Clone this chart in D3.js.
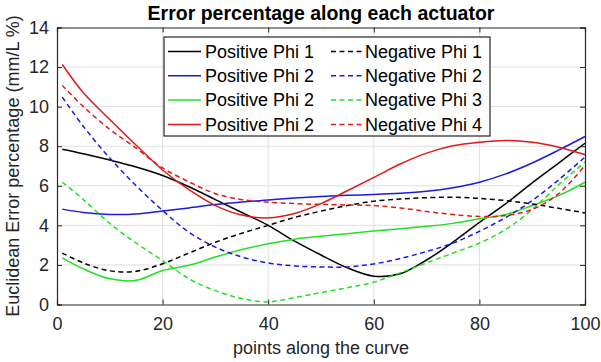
<!DOCTYPE html>
<html>
<head>
<meta charset="utf-8">
<script src="https://cdn.jsdelivr.net/npm/d3@7"></script>
<style>
  body { margin: 0; background: #fff; }
  svg text { font-family: "Liberation Sans", Arial, sans-serif; }
</style>
</head>
<body>
<div id="chart"></div>
<script>
// points along the curve (x samples)
const xPoints = [1, 5, 10, 15, 20, 25, 30, 35, 40, 45, 50, 55, 60, 65, 70, 75, 80, 85, 90, 95, 100];

// error percentages
const posPhi1 = [7.85, 7.62, 7.3, 6.95, 6.52, 5.95, 5.3, 4.65, 4.0, 3.2, 2.5, 1.85, 1.43, 1.55, 2.25, 3.15, 4.15, 5.1, 6.15, 7.15, 8.15];
const negPhi1 = [2.6, 2.1, 1.7, 1.68, 2.06, 2.6, 3.15, 3.6, 4.0, 4.4, 4.72, 5.0, 5.22, 5.33, 5.4, 5.42, 5.36, 5.25, 5.08, 4.86, 4.63];
const posPhi2 = [4.82, 4.65, 4.55, 4.57, 4.72, 4.88, 5.05, 5.18, 5.28, 5.38, 5.46, 5.52, 5.56, 5.62, 5.72, 5.9, 6.18, 6.6, 7.15, 7.8, 8.49];
const negPhi2 = [10.48, 9.0, 7.4, 6.0, 4.75, 3.65, 2.9, 2.4, 2.1, 1.95, 1.9, 1.9, 2.05, 2.32, 2.68, 3.1, 3.7, 4.4, 5.25, 6.3, 7.45];
const posPhi3 = [2.36, 1.8, 1.3, 1.22, 1.72, 1.98, 2.4, 2.78, 3.07, 3.3, 3.45, 3.58, 3.71, 3.83, 3.95, 4.1, 4.33, 4.55, 5.0, 5.5, 6.18];
const negPhi3 = [6.18, 5.3, 4.1, 3.1, 2.22, 1.3, 0.7, 0.3, 0.13, 0.35, 0.6, 0.85, 1.13, 1.6, 2.1, 2.6, 3.1, 3.8, 4.8, 6.05, 7.2];
const posPhi4 = [12.13, 10.7, 9.35, 8.05, 6.8, 5.8, 5.0, 4.52, 4.38, 4.6, 5.1, 5.75, 6.42, 7.1, 7.65, 8.02, 8.2, 8.29, 8.2, 7.95, 7.57];
const negPhi4 = [11.07, 10.0, 8.85, 7.9, 6.9, 6.2, 5.6, 5.3, 5.17, 5.1, 5.06, 5.03, 5.0, 4.88, 4.7, 4.55, 4.45, 4.5, 4.8, 5.6, 7.03];

const xTicks = [0, 20, 40, 60, 80, 100];
const yTicks = [0, 2, 4, 6, 8, 10, 12, 14];

const posLabels = ["Positive Phi 1", "Positive Phi 2", "Positive Phi 2", "Positive Phi 2"];
const negLabels = ["Negative Phi 1", "Negative Phi 2", "Negative Phi 3", "Negative Phi 4"];
const colors = ["#000000", "#1a1ae0", "#22e022", "#e01a1a"];

const series = [
  { values: posPhi1, color: colors[0], dash: null },
  { values: posPhi2, color: colors[1], dash: null },
  { values: posPhi3, color: colors[2], dash: null },
  { values: posPhi4, color: colors[3], dash: null },
  { values: negPhi1, color: colors[0], dash: "5,3.5" },
  { values: negPhi2, color: colors[1], dash: "5,3.5" },
  { values: negPhi3, color: colors[2], dash: "5,3.5" },
  { values: negPhi4, color: colors[3], dash: "5,3.5" }
];

const W = 601, H = 362;
const margin = { top: 27.5, right: 16, bottom: 57.5, left: 57 };
const width = W - margin.left - margin.right;
const height = H - margin.top - margin.bottom;
const axisColor = "#262626";
const fs = 18;

const svg = d3.select("#chart").append("svg")
  .attr("width", W).attr("height", H);

const g = svg.append("g")
  .attr("transform", `translate(${margin.left},${margin.top})`);

const x = d3.scaleLinear().domain([0, 100]).range([0, width]);
const y = d3.scaleLinear().domain([0, 14]).range([height, 0]);

// grid
g.append("g").selectAll("line").data(xTicks.slice(1, -1)).enter().append("line")
  .attr("x1", d => x(d)).attr("x2", d => x(d))
  .attr("y1", 0).attr("y2", height)
  .attr("stroke", "#dfdfdf").attr("stroke-width", 1);
g.append("g").selectAll("line").data(yTicks.slice(1, -1)).enter().append("line")
  .attr("y1", d => y(d)).attr("y2", d => y(d))
  .attr("x1", 0).attr("x2", width)
  .attr("stroke", "#dfdfdf").attr("stroke-width", 1);

// curves
const line = d3.line()
  .x((d, i) => x(xPoints[i]))
  .y(d => y(d))
  .curve(d3.curveCatmullRom.alpha(0.5));

g.append("g").selectAll("path").data(series).enter().append("path")
  .attr("d", d => line(d.values))
  .attr("fill", "none")
  .attr("stroke", d => d.color)
  .attr("stroke-width", 1.5)
  .attr("stroke-dasharray", d => d.dash);

// axes, MATLAB style: ticks inward on all four sides
g.append("g").attr("transform", `translate(0,${height})`)
  .call(d3.axisBottom(x).tickValues(xTicks).tickSize(-5).tickPadding(13));
g.append("g")
  .call(d3.axisLeft(y).tickValues(yTicks).tickSize(-5).tickPadding(8));
g.append("g").call(d3.axisTop(x).tickValues(xTicks).tickSize(-5).tickFormat(""));
g.append("g").attr("transform", `translate(${width},0)`)
  .call(d3.axisRight(y).tickValues(yTicks).tickSize(-5).tickFormat(""));

g.selectAll(".domain").attr("stroke", axisColor).attr("stroke-width", 1.2);
g.selectAll(".tick line").attr("stroke", axisColor);
g.selectAll(".tick text").attr("fill", axisColor).attr("font-size", fs);

// legend
const lg = g.append("g").attr("transform", `translate(${164 - margin.left},${37 - margin.top})`);
lg.append("rect")
  .attr("width", 326).attr("height", 99)
  .attr("fill", "#fff").attr("stroke", axisColor).attr("stroke-width", 1.2);

const rowY = i => 14.5 + i * 24.3;
posLabels.forEach((label, i) => {
  lg.append("line")
    .attr("x1", 4).attr("x2", 37).attr("y1", rowY(i)).attr("y2", rowY(i))
    .attr("stroke", colors[i]).attr("stroke-width", 1.5);
  lg.append("text").attr("x", 41).attr("y", rowY(i)).attr("dy", "0.35em")
    .attr("font-size", fs).attr("fill", "#000").text(label);
});
negLabels.forEach((label, i) => {
  lg.append("line")
    .attr("x1", 167).attr("x2", 198).attr("y1", rowY(i)).attr("y2", rowY(i))
    .attr("stroke", colors[i]).attr("stroke-width", 1.5)
    .attr("stroke-dasharray", "5,3.5");
  lg.append("text").attr("x", 201).attr("y", rowY(i)).attr("dy", "0.35em")
    .attr("font-size", fs).attr("fill", "#000").text(label);
});

// titles
svg.append("text")
  .attr("x", margin.left + width / 2).attr("y", 20)
  .attr("text-anchor", "middle").attr("font-size", 19.5).attr("font-weight", "bold")
  .attr("fill", "#000").text("Error percentage along each actuator");

svg.append("text")
  .attr("x", margin.left + width / 2).attr("y", 354)
  .attr("text-anchor", "middle").attr("font-size", fs)
  .attr("fill", axisColor).text("points along the curve");

svg.append("text")
  .attr("transform", `translate(19,${margin.top + height / 2}) rotate(-90)`)
  .attr("text-anchor", "middle").attr("font-size", fs)
  .attr("fill", axisColor).text("Euclidean Error percentage (mm/L %)");
</script>
</body>
</html>
